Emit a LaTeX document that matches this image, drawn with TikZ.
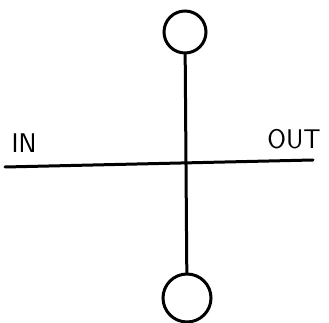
\documentclass[tikz,border=0pt]{standalone}
\usepackage{tikz}
\usetikzlibrary{positioning}

\begin{document}
\begin{tikzpicture}[
  x=1pt, y=1pt,
  stroke/.style={line width=3pt, line cap=round},
  pin/.style={draw, circle, line width=3pt, inner sep=0pt},
  tag/.style={font=\sffamily\fontsize{27}{30}\selectfont}
]
\useasboundingbox (0,0) rectangle (329,323);
% pins
\node[pin, minimum size=42pt] (top) at (185,291) {};
\node[pin, minimum size=48pt] (bot) at (187,25) {};
\draw[stroke] (top) -- (bot);
% signal line
\coordinate (in) at (5,156);
\coordinate (out) at (313,163);
\draw[stroke] (in) -- (out);
% labels
\node[tag] (inlbl) at (24,180) {IN};
\node[tag] (outlbl) at (294,184) {OUT};
\end{tikzpicture}
\end{document}
